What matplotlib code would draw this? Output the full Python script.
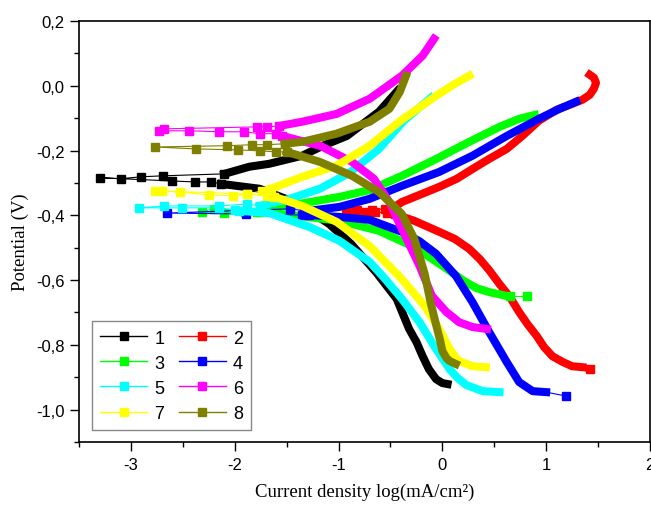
import matplotlib
matplotlib.use("Agg")
import matplotlib.pyplot as plt
from matplotlib.lines import Line2D
from matplotlib.ticker import FixedLocator, MultipleLocator, FuncFormatter

labels = ["1", "2", "3", "4", "5", "6", "7", "8"]
colors = ["#000000", "#FF0000", "#00FF00", "#0000FF", "#00FFFF", "#FF00FF", "#FFFF00", "#808000"]

# ---- curve 1 (black)
c1_x = [0.05, 0.00, -0.06, -0.13, -0.19, -0.25, -0.32, -0.44, -0.64, -0.88, -1.09, -1.38, -1.76, -2.13]
c1_y = [-0.921, -0.918, -0.906, -0.875, -0.835, -0.791, -0.751, -0.658, -0.575, -0.488, -0.427, -0.365, -0.318, -0.303]
s1_x = [-2.13, -2.23, -2.38, -2.60, -3.30, -3.10, -2.90, -2.69, -2.10]
s1_y = [-0.303, -0.297, -0.297, -0.294, -0.284, -0.287, -0.281, -0.278, -0.272]
a1_x = [-2.10, -1.86, -1.67, -1.35, -1.15, -0.92, -0.61, -0.43]
a1_y = [-0.272, -0.250, -0.241, -0.216, -0.185, -0.155, -0.080, -0.015]
t1_x = []
t1_y = []

# ---- curve 2 (red)
c2_x = [1.35, 1.25, 1.16, 1.06, 0.98, 0.91, 0.82, 0.74, 0.65, 0.55, 0.45, 0.36, 0.26, 0.12, -0.03, -0.27, -0.46]
c2_y = [-0.869, -0.866, -0.853, -0.835, -0.807, -0.773, -0.736, -0.699, -0.652, -0.612, -0.569, -0.535, -0.504, -0.473, -0.451, -0.417, -0.396]
s2_x = [-0.46, -0.53, -0.65, -0.74, -0.88, -0.93, -0.82, -0.68, -0.55, -0.46]
s2_y = [-0.396, -0.393, -0.389, -0.389, -0.386, -0.386, -0.383, -0.383, -0.380, -0.374]
a2_x = [-0.46, -0.39, -0.22, -0.03, 0.14, 0.29, 0.45, 0.62, 0.77, 0.93, 1.10, 1.25, 1.35, 1.42, 1.46, 1.48, 1.46, 1.42]
a2_y = [-0.374, -0.359, -0.337, -0.312, -0.287, -0.257, -0.226, -0.195, -0.155, -0.108, -0.074, -0.056, -0.043, -0.028, -0.009, 0.009, 0.025, 0.034]
t2_x = [1.35, 1.42]
t2_y = [-0.869, -0.875]

# ---- curve 3 (green)
c3_x = [0.62, 0.45, 0.33, 0.21, 0.02, -0.27, -0.61, -0.99, -1.38, -1.76]
c3_y = [-0.649, -0.637, -0.625, -0.603, -0.560, -0.498, -0.448, -0.417, -0.402, -0.389]
s3_x = [-1.76, -1.79, -2.20, -2.32, -2.10, -1.90, -1.71]
s3_y = [-0.389, -0.389, -0.380, -0.389, -0.392, -0.390, -0.380]
a3_x = [-1.71, -1.38, -0.99, -0.70, -0.39, -0.06, 0.26, 0.55, 0.74, 0.89]
a3_y = [-0.380, -0.365, -0.343, -0.322, -0.278, -0.226, -0.173, -0.127, -0.102, -0.090]
t3_x = [0.62, 0.65, 0.82]
t3_y = [-0.649, -0.649, -0.649]

# ---- curve 4 (blue)
c4_x = [1.00, 0.87, 0.74, 0.62, 0.45, 0.29, 0.13, -0.06, -0.22, -0.39, -0.70, -0.99, -1.28]
c4_y = [-0.946, -0.943, -0.915, -0.853, -0.760, -0.668, -0.587, -0.519, -0.480, -0.451, -0.414, -0.405, -0.399]
s4_x = [-1.28, -1.35, -1.89, -2.65, -1.47, -1.33, -1.28]
s4_y = [-0.399, -0.399, -0.396, -0.393, -0.380, -0.386, -0.386]
a4_x = [-1.28, -0.99, -0.70, -0.39, -0.03, 0.29, 0.62, 0.93, 1.13, 1.29]
a4_y = [-0.386, -0.374, -0.349, -0.309, -0.266, -0.216, -0.155, -0.102, -0.071, -0.049]
t4_x = [1.00, 1.19]
t4_y = [-0.946, -0.958]

# ---- curve 5 (cyan)
c5_x = [0.55, 0.39, 0.23, 0.14, 0.07, -0.06, -0.22, -0.39, -0.55, -0.70, -0.99, -1.28, -1.67, -1.96]
c5_y = [-0.946, -0.943, -0.924, -0.900, -0.875, -0.813, -0.730, -0.658, -0.597, -0.544, -0.479, -0.436, -0.393, -0.386]
s5_x = [-1.96, -2.00, -2.15, -2.51, -2.92, -2.68, -2.15, -1.88, -1.76]
s5_y = [-0.386, -0.383, -0.377, -0.377, -0.377, -0.371, -0.371, -0.365, -0.371]
a5_x = [-1.76, -1.47, -1.18, -0.90, -0.61, -0.37, -0.11]
a5_y = [-0.371, -0.349, -0.318, -0.270, -0.195, -0.108, -0.037]
t5_x = []
t5_y = []

# ---- curve 6 (magenta)
c6_x = [0.43, 0.29, 0.16, 0.10, 0.04, -0.03, -0.10, -0.22, -0.39, -0.51, -0.66, -0.87, -1.18, -1.54]
c6_y = [-0.751, -0.745, -0.730, -0.714, -0.699, -0.674, -0.649, -0.556, -0.442, -0.359, -0.287, -0.235, -0.185, -0.155]
s6_x = [-1.54, -1.60, -1.76, -1.91, -2.15, -2.44, -2.73, -2.68, -1.79, -1.69, -1.57]
s6_y = [-0.155, -0.148, -0.148, -0.142, -0.142, -0.139, -0.139, -0.133, -0.127, -0.127, -0.124]
a6_x = [-1.57, -1.35, -1.02, -0.70, -0.39, -0.19, -0.08]
a6_y = [-0.124, -0.111, -0.087, -0.040, 0.031, 0.093, 0.145]
t6_x = []
t6_y = []

# ---- curve 7 (yellow)
c7_x = [0.42, 0.29, 0.16, 0.12, 0.07, -0.03, -0.17, -0.39, -0.70, -1.02, -1.35, -1.62]
c7_y = [-0.869, -0.866, -0.850, -0.835, -0.813, -0.751, -0.680, -0.597, -0.495, -0.420, -0.371, -0.343]
s7_x = [-1.62, -1.69, -1.88, -2.02, -2.25, -2.53, -2.77, -2.70, -1.88, -1.74, -1.65]
s7_y = [-0.343, -0.340, -0.334, -0.340, -0.337, -0.328, -0.325, -0.325, -0.334, -0.325, -0.318]
a7_x = [-1.65, -1.35, -1.02, -0.70, -0.39, -0.06, 0.12, 0.26]
a7_y = [-0.318, -0.281, -0.247, -0.185, -0.105, -0.031, 0.006, 0.031]
t7_x = []
t7_y = []

# ---- curve 8 (olive)
c8_x = [0.13, 0.07, 0.04, 0.00, -0.02, -0.05, -0.11, -0.17, -0.27, -0.39, -0.61, -0.87, -1.18, -1.50]
c8_y = [-0.859, -0.850, -0.841, -0.819, -0.788, -0.751, -0.674, -0.581, -0.473, -0.396, -0.328, -0.278, -0.235, -0.204]
s8_x = [-1.50, -1.60, -1.76, -1.97, -2.37, -2.77, -2.07, -1.83, -1.69, -1.52]
s8_y = [-0.204, -0.204, -0.201, -0.198, -0.195, -0.189, -0.185, -0.182, -0.182, -0.179]
a8_x = [-1.52, -1.35, -1.02, -0.70, -0.51, -0.41, -0.35]
a8_y = [-0.179, -0.173, -0.148, -0.111, -0.071, -0.019, 0.031]
t8_x = []
t8_y = []

curves = [
    (c1_x, c1_y, s1_x, s1_y, a1_x, a1_y, t1_x, t1_y),
    (c2_x, c2_y, s2_x, s2_y, a2_x, a2_y, t2_x, t2_y),
    (c3_x, c3_y, s3_x, s3_y, a3_x, a3_y, t3_x, t3_y),
    (c4_x, c4_y, s4_x, s4_y, a4_x, a4_y, t4_x, t4_y),
    (c5_x, c5_y, s5_x, s5_y, a5_x, a5_y, t5_x, t5_y),
    (c6_x, c6_y, s6_x, s6_y, a6_x, a6_y, t6_x, t6_y),
    (c7_x, c7_y, s7_x, s7_y, a7_x, a7_y, t7_x, t7_y),
    (c8_x, c8_y, s8_x, s8_y, a8_x, a8_y, t8_x, t8_y),
]

x_ticks = [-3, -2, -1, 0, 1, 2]
y_ticks = [-1.0, -0.8, -0.6, -0.4, -0.2, 0.0, 0.2]

fig = plt.figure(figsize=(6.51, 5.06), dpi=100)
ax = fig.add_axes([0.1214, 0.1245, 0.877, 0.832])

band_lw = 5.8
for i, (cx, cy, sx, sy, axx, ayy, tx, ty) in enumerate(curves):
    col = colors[i]
    z = 2 + i
    ax.plot(sx, sy, color=col, lw=0.8, marker='s', ms=6, mec=col, mfc=col, zorder=z)
    ax.plot(cx, cy, color=col, lw=band_lw, solid_capstyle='projecting', solid_joinstyle='round', zorder=z)
    ax.plot(axx, ayy, color=col, lw=band_lw, solid_capstyle='projecting', solid_joinstyle='round', zorder=z)
    if tx:
        ax.plot(tx, ty, color=col, lw=0.8, zorder=z)
        ax.plot(tx[1:], ty[1:], ls='none', marker='s', ms=6, mec=col, mfc=col, zorder=z)

ax.set_xlim(-3.5, 2.0)
ax.set_ylim(-1.1, 0.2)
ax.xaxis.set_major_locator(FixedLocator(x_ticks))
ax.xaxis.set_minor_locator(MultipleLocator(0.5))
ax.yaxis.set_major_locator(FixedLocator(y_ticks))
ax.yaxis.set_minor_locator(MultipleLocator(0.1))
ax.xaxis.set_major_formatter(FuncFormatter(lambda v, p: "%d" % round(v)))
ax.yaxis.set_major_formatter(FuncFormatter(lambda v, p: ("%.1f" % v).replace("-0.0", "0.0").replace(".", ",")))

ax.tick_params(which='major', direction='out', length=6.5, width=1.0, labelsize=12, pad=4)
ax.tick_params(which='minor', direction='out', length=3.6, width=1.0)
ax.tick_params(top=False, right=False)
for lab in ax.get_xticklabels() + ax.get_yticklabels():
    lab.set_family("Liberation Sans")
for sp in ax.spines.values():
    sp.set_linewidth(1.2)

ax.set_xlabel("Current density log(mA/cm²)", family="Liberation Serif", fontsize=13.5)
ax.set_ylabel("Potential (V)", family="Liberation Serif", fontsize=13.5)
ax.xaxis.set_label_coords(0.5, -0.097)
ax.yaxis.set_label_coords(-0.0876, 0.477)

handles = [Line2D([], [], color=c, lw=1.0, marker='s', ms=6, mec=c, mfc=c) for c in colors]
order = [0, 2, 4, 6, 1, 3, 5, 7]
leg = ax.legend([handles[k] for k in order], [labels[k] for k in order], ncol=2,
                loc='lower left', bbox_to_anchor=(0.0228, 0.0285), borderaxespad=0, fancybox=False,
                edgecolor='#888888', prop={'family': 'Liberation Sans', 'size': 13},
                handlelength=2.6, handletextpad=0.4, columnspacing=0.8, labelspacing=0.45,
                borderpad=0.45, framealpha=1)
leg.get_frame().set_linewidth(1.0)
leg.set_zorder(20)

fig.savefig("out.png", dpi=100)
